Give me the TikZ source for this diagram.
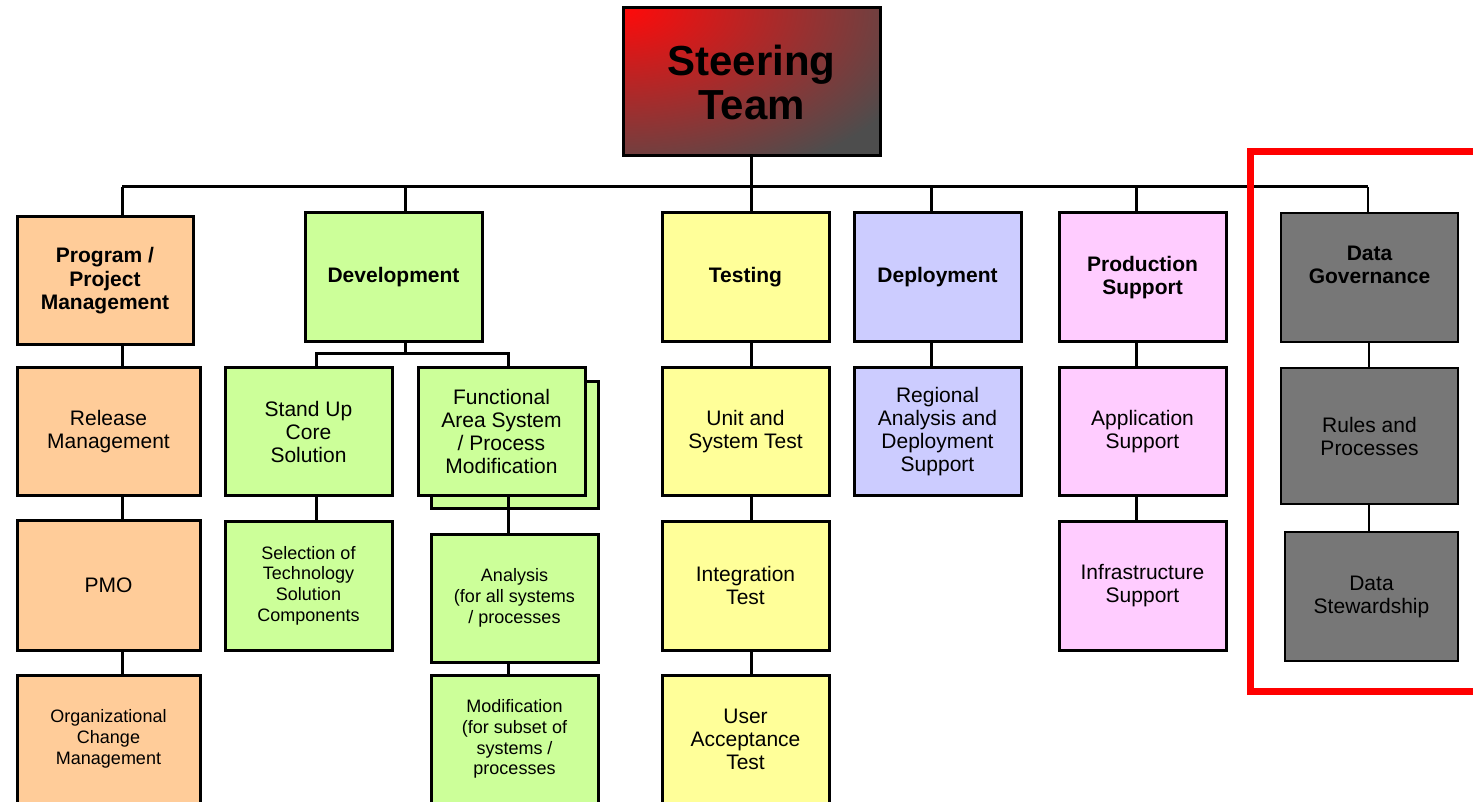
\documentclass[tikz,border=0pt]{standalone}
\usepackage{fontspec}
\setmainfont{Liberation Sans}
\definecolor{cpeach}{HTML}{FFCC99}
\definecolor{clime}{HTML}{CCFF99}
\definecolor{cyel}{HTML}{FFFF99}
\definecolor{clav}{HTML}{CCCCFF}
\definecolor{cpink}{HTML}{FFCCFF}
\definecolor{cdg}{HTML}{777777}
\definecolor{cstred}{HTML}{FF0A0A}
\definecolor{cstgray}{HTML}{4D4D4D}
\tikzset{
  box/.style={draw=black, line width=3pt, inner sep=0pt, align=center, text=black},
  bigf/.style={font=\fontsize{21}{23.5}\selectfont\bfseries},
  regf/.style={font=\fontsize{21}{23}\selectfont},
  smf/.style={font=\fontsize{18}{20.7}\selectfont},
  conn/.style={line width=3pt, draw=black},
  thinconn/.style={line width=1.6pt, draw=black},
}
\begin{document}
\begin{tikzpicture}[x=1pt,y=-1pt]
\clip (0,0) rectangle (1473,802);
\fill[white] (0,0) rectangle (1473,802);

% Steering team
\node[box, fill=cstgray, minimum width=257pt, minimum height=148pt,
  path picture={\shade[inner color=cstred, outer color=cstgray] (path picture bounding box.north west) ellipse (320pt and 185pt);},
  font=\fontsize{42}{44}\selectfont\bfseries] (st) at (751.5,82) {Steering\\Team};

% top row
\node[box, bigf, fill=cpeach, minimum width=176pt, minimum height=128pt] (pm) at (105,281) {Program /\\Project\\Management};
\node[box, bigf, fill=clime, minimum width=177pt, minimum height=129pt] (dev) at (393.5,277.5) {Development};
\node[box, bigf, fill=cyel, minimum width=167pt, minimum height=129pt] (test) at (745.5,277.5) {Testing};
\node[box, bigf, fill=clav, minimum width=167pt, minimum height=129pt] (dep) at (937.5,277.5) {Deployment};
\node[box, bigf, fill=cpink, minimum width=167pt, minimum height=129pt] (prod) at (1142.5,277.5) {Production\\Support};
\node[box, fill=cdg, line width=2.4pt, minimum width=177pt, minimum height=129pt] (dg) at (1369.5,277.5) {};
\node[bigf, align=center, text=black, inner sep=0pt] (dgt) at (1369.5,265) {Data\\Governance};

% program column
\node[box, regf, fill=cpeach, minimum width=183pt, minimum height=127pt] (rel) at (108.5,431.5) {Release\\Management};
\node[box, regf, fill=cpeach, minimum width=183pt, minimum height=130pt] (pmo) at (108.5,585) {PMO};
\node[box, smf, fill=cpeach, minimum width=183pt, minimum height=128pt] (ocm) at (108.5,739) {Organizational\\Change\\Management};

% development column
\node[box, regf, fill=clime, minimum width=167pt, minimum height=127pt] (su) at (308.5,431.5) {Stand Up\\Core\\Solution};
\node[box, fill=clime, minimum width=167pt, minimum height=127pt] (fash) at (514.5,444.5) {};
\node[box, regf, fill=clime, minimum width=167pt, minimum height=127pt] (fa) at (501.5,431.5) {Functional\\Area System\\/ Process\\Modification};
\node[box, smf, fill=clime, minimum width=167pt, minimum height=129pt] (sel) at (308.5,585.5) {Selection of\\Technology\\Solution\\Components};
\node[box, smf, fill=clime, minimum width=167pt, minimum height=128pt] (an) at (514.5,598) {Analysis\\(for all systems\\/ processes};
\node[box, smf, fill=clime, minimum width=167pt, minimum height=128pt] (mod) at (514.5,739) {Modification\\(for subset of\\systems /\\processes};

% testing column
\node[box, regf, fill=cyel, minimum width=167pt, minimum height=127pt] (ust) at (745.5,431.5) {Unit and\\System Test};
\node[box, regf, fill=cyel, minimum width=167pt, minimum height=129pt] (it) at (745.5,585.5) {Integration\\Test};
\node[box, regf, fill=cyel, minimum width=167pt, minimum height=128pt] (uat) at (745.5,739) {User\\Acceptance\\Test};

% deployment
\node[box, regf, fill=clav, minimum width=167pt, minimum height=127pt] (rad) at (937.5,431.5) {Regional\\Analysis and\\Deployment\\Support};

% production support
\node[box, regf, fill=cpink, minimum width=167pt, minimum height=127pt] (as) at (1142.5,431.5) {Application\\Support};
\node[box, regf, fill=cpink, minimum width=167pt, minimum height=129pt] (is) at (1142.5,585.5) {Infrastructure\\Support};

% data governance
\node[box, regf, fill=cdg, line width=2.4pt, minimum width=177pt, minimum height=136pt] (rp) at (1369.5,436) {Rules and\\Processes};
\node[box, regf, fill=cdg, line width=2.4pt, minimum width=173pt, minimum height=129pt] (ds) at (1371.5,596.5) {Data\\Stewardship};

% bus coordinates
\coordinate (bpm) at (122,187);
\coordinate (bdev) at (405,187);
\coordinate (btest) at (751,187);
\coordinate (bdep) at (931,187);
\coordinate (bprod) at (1136,187);
\coordinate (bdg) at (1368,187);
\coordinate (ddev) at (405,354);
\coordinate (dsu) at (316,354);
\coordinate (dfa) at (508,354);

\draw[conn] (st.south -| btest) -- (btest);
\draw[conn] (bpm) -- (bdg);
\draw[conn] (bpm) -- (bpm |- pm.north);
\draw[conn] (bdev) -- (bdev |- dev.north);
\draw[conn] (btest) -- (btest |- test.north);
\draw[conn] (bdep) -- (bdep |- dep.north);
\draw[conn] (bprod) -- (bprod |- prod.north);
\draw[thinconn] (bdg) -- (bdg |- dg.north);

% program column connectors
\draw[conn] (bpm |- pm.south) -- (bpm |- rel.north);
\draw[conn] (bpm |- rel.south) -- (bpm |- pmo.north);
\draw[conn] (bpm |- pmo.south) -- (bpm |- ocm.north);

% development connectors
\draw[conn] (ddev |- dev.south) -- (ddev);
\draw[conn] (dsu |- su.north) -- (dsu) -- (dfa) -- (dfa |- fa.north);
\draw[conn] (dsu |- su.south) -- (dsu |- sel.north);
\draw[conn] (dfa |- fa.south) -- (dfa |- an.north);
\draw[conn] (dfa |- an.south) -- (dfa |- mod.north);

% testing connectors
\draw[conn] (btest |- test.south) -- (btest |- ust.north);
\draw[conn] (btest |- ust.south) -- (btest |- it.north);
\draw[conn] (btest |- it.south) -- (btest |- uat.north);

% deployment / production
\draw[conn] (bdep |- dep.south) -- (bdep |- rad.north);
\draw[conn] (bprod |- prod.south) -- (bprod |- as.north);
\draw[conn] (bprod |- as.south) -- (bprod |- is.north);

% data governance
\draw[thinconn] (1369,342) coordinate (g1) -- (g1 |- rp.north);
\draw[thinconn] (g1 |- rp.south) -- (g1 |- ds.north);

% red frame
\draw[red, line width=7pt] (1500,152) -- (1250,152) -- (1250,691) -- (1500,691);
\end{tikzpicture}
\end{document}
